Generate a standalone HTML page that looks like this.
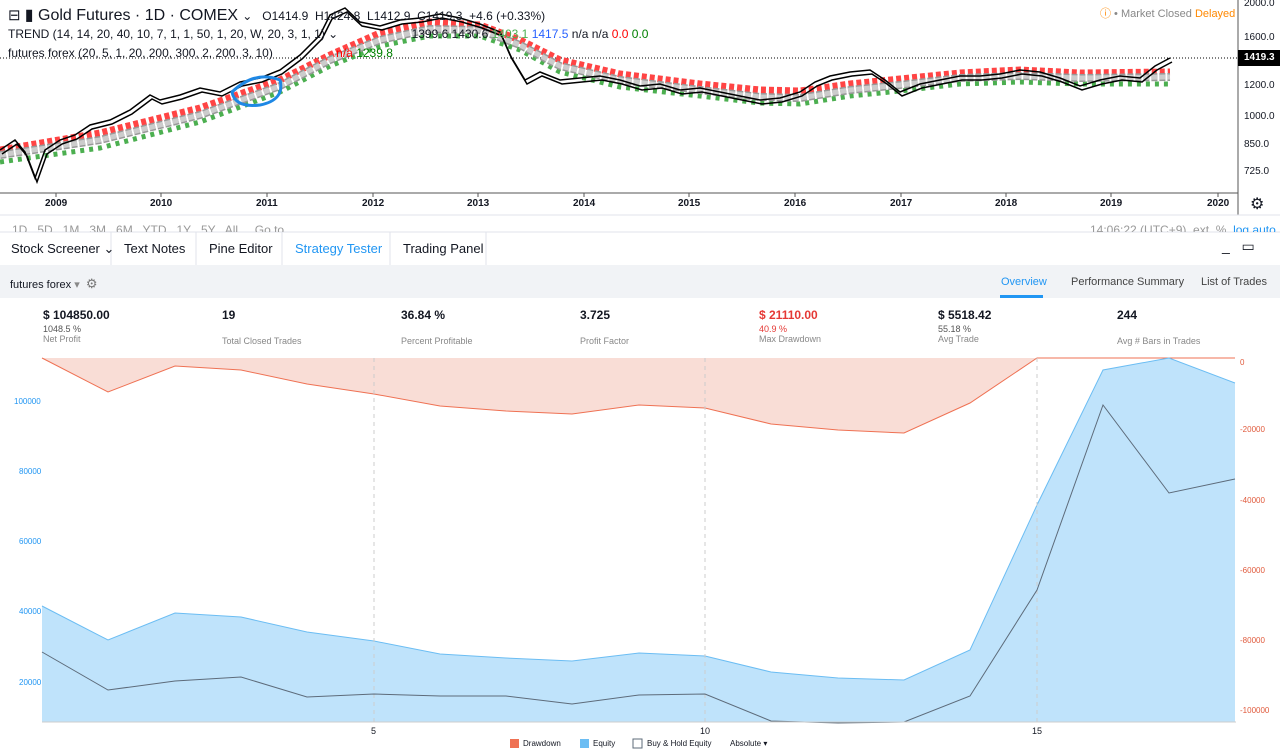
<!DOCTYPE html>
<html><head><meta charset="utf-8"><style>
body{margin:0;width:1280px;height:754px;overflow:hidden;background:#fff;font-family:"Liberation Sans",sans-serif;position:relative;color:#131722}
.a{position:absolute;white-space:nowrap}
</style></head><body>
<svg class="a" style="left:0;top:0" width="1280" height="754">
 <line x1="1238" y1="0" x2="1238" y2="215" stroke="#555" />
 <line x1="0" y1="193" x2="1238" y2="193" stroke="#555"/>
 <line x1="0" y1="215" x2="1280" y2="215" stroke="#e0e3eb"/>
 <line x1="0" y1="58" x2="1238" y2="58" stroke="#000" stroke-dasharray="1 2"/>
 <g stroke="#555"><line x1="56" y1="193" x2="56" y2="197"/><line x1="161" y1="193" x2="161" y2="197"/><line x1="267" y1="193" x2="267" y2="197"/><line x1="373" y1="193" x2="373" y2="197"/><line x1="478" y1="193" x2="478" y2="197"/><line x1="584" y1="193" x2="584" y2="197"/><line x1="689" y1="193" x2="689" y2="197"/><line x1="795" y1="193" x2="795" y2="197"/><line x1="901" y1="193" x2="901" y2="197"/><line x1="1006" y1="193" x2="1006" y2="197"/><line x1="1111" y1="193" x2="1111" y2="197"/><line x1="1218" y1="193" x2="1218" y2="197"/></g>
 <polyline fill="none" stroke="#f44" stroke-width="7" stroke-dasharray="5 3" points="0,150 100,133 200,108 280,80 330,55 380,33 430,22 480,25 520,40 560,60 620,74 700,84 760,90 800,91 850,84 900,79 960,73 1020,70 1080,73 1170,72"/>
 <polyline fill="none" stroke="#4caf50" stroke-width="5" stroke-dasharray="4 5" points="0,162 100,148 200,122 280,92 330,66 380,46 430,36 480,36 520,50 560,72 620,87 700,96 760,103 800,104 850,96 900,91 960,84 1020,82 1080,84 1170,84"/>
 <polyline fill="none" stroke="#999" stroke-width="8" stroke-dasharray="6 2" points="0,155 100,140 200,115 280,86 330,60 380,40 430,29 480,30 520,45 560,66 620,80 700,90 760,97 800,98 850,90 900,85 960,78 1020,76 1080,78 1170,77"/>
 <polyline fill="none" stroke="#ccc" stroke-width="5" stroke-dasharray="6 2" points="0,155 100,140 200,115 280,86 330,60 380,40 430,29 480,30 520,45 560,66 620,80 700,90 760,97 800,98 850,90 900,85 960,78 1020,76 1080,78 1170,77"/>
 <g fill="none" stroke="#000" stroke-width="1.5">
 <polyline points="0,150 15,140 25,152 35,178 45,150 60,140 75,135 90,125 110,120 130,110 150,95 160,100 180,95 200,88 220,92 240,82 260,78 280,70 300,55 320,35 330,15 345,8 360,22 380,26 400,20 420,18 440,14 460,18 480,24 500,32 510,55 525,80 540,72 560,80 580,78 600,76 620,80 640,86 660,84 680,90 700,88 720,92 740,96 760,100 780,98 800,92 815,82 830,76 850,72 870,70 885,80 900,92 920,84 940,80 960,76 980,76 1000,74 1020,70 1040,72 1060,78 1080,86 1100,80 1120,76 1140,78 1155,66 1170,58"/>
 <polyline transform="translate(2,4)" points="0,150 15,140 25,152 35,178 45,150 60,140 75,135 90,125 110,120 130,110 150,95 160,100 180,95 200,88 220,92 240,82 260,78 280,70 300,55 320,35 330,15 345,8 360,22 380,26 400,20 420,18 440,14 460,18 480,24 500,32 510,55 525,80 540,72 560,80 580,78 600,76 620,80 640,86 660,84 680,90 700,88 720,92 740,96 760,100 780,98 800,92 815,82 830,76 850,72 870,70 885,80 900,92 920,84 940,80 960,76 980,76 1000,74 1020,70 1040,72 1060,78 1080,86 1100,80 1120,76 1140,78 1155,66 1170,58"/>
 </g>
 <path d="M232,92 Q255,70 280,80 Q285,100 260,105 Q235,108 232,92Z" fill="none" stroke="#1e88e5" stroke-width="3"/>
 <rect x="1238" y="50" width="42" height="16" fill="#000"/>
 <line x1="0" y1="232" x2="1280" y2="232" stroke="#e0e3eb"/>
 <rect x="0" y="265" width="1280" height="33" fill="#f1f3f6"/>
 <g stroke="#e0e3eb"><line x1="111" y1="232" x2="111" y2="265"/><line x1="196" y1="232" x2="196" y2="265"/><line x1="282" y1="232" x2="282" y2="265"/><line x1="390" y1="232" x2="390" y2="265"/><line x1="486" y1="232" x2="486" y2="265"/></g>
 <rect x="1000" y="295" width="43" height="3" fill="#2196f3"/>
 <polygon fill="#f9ddd6" points="42,358 108,392 175,366 241,370 307,384 374,394 440,406 506,411 572,414 639,405 705,408 771,424 838,430 904,433 970,403 1037,358 1103,358 1169,358 1235,358"/>
 <polyline fill="none" stroke="#ef7153" stroke-width="1" points="42,358 108,392 175,366 241,370 307,384 374,394 440,406 506,411 572,414 639,405 705,408 771,424 838,430 904,433 970,403 1037,358 1103,358 1169,358 1235,358"/>
 <polygon fill="#bfe3fb" points="42,606 108,640 175,613 241,617 307,632 374,641 440,654 506,658 572,661 639,653 705,656 771,672 838,678 904,680 970,650 1037,505 1103,370 1169,358 1235,383 1235,722 42,722"/>
 <polyline fill="none" stroke="#6bbdf3" points="42,606 108,640 175,613 241,617 307,632 374,641 440,654 506,658 572,661 639,653 705,656 771,672 838,678 904,680 970,650 1037,505 1103,370 1169,358 1235,383"/>
 <g stroke="#ccc" stroke-dasharray="4 4"><line x1="374" y1="358" x2="374" y2="722"/><line x1="705" y1="358" x2="705" y2="722"/><line x1="1037" y1="358" x2="1037" y2="722"/></g>
 <polyline fill="none" stroke="#5d6b7a" points="42,652 108,690 175,681 241,677 307,697 374,694 440,696 506,696 572,704 639,695 705,694 771,721 838,723 904,722 970,696 1037,590 1103,405 1169,493 1235,479"/>
 <line x1="42" y1="722" x2="1236" y2="722" stroke="#ccc"/>
 <rect x="510" y="739" width="9" height="9" fill="#ef7153"/>
 <rect x="580" y="739" width="9" height="9" fill="#6bbdf3"/>
 <rect x="633" y="739" width="9" height="9" fill="#fff" stroke="#5d6b7a"/>
</svg>
<div class="a" style="left:8px;top:5px;font-size:15px">⊟ <b style="font-weight:normal;font-size:16px">▮ Gold Futures · 1D · COMEX</b> <span style="font-size:12px">⌄ &nbsp; O1414.9 &nbsp;H1424.8 &nbsp;L1412.9 &nbsp;C1419.3 &nbsp;+4.6 (+0.33%)</span></div>
<div class="a" style="left:8px;top:27px;font-size:12px">TREND (14, 14, 20, 40, 10, 7, 1, 1, 50, 1, 20, W, 20, 3, 1, 1) ⌄ <span style="margin-left:70px">1399.6 1430.6 <span style="color:#4caf50">1403.1</span> <span style="color:#2962ff">1417.5</span> n/a n/a <span style="color:red">0.0</span> <span style="color:green">0.0</span></span></div>
<div class="a" style="left:8px;top:46px;font-size:12px">futures forex (20, 5, 1, 20, 200, 300, 2, 200, 3, 10) <span style="margin-left:60px;color:red">n/a</span> <span style="color:green">1239.8</span></div>
<div class="a" style="left:1100px;top:5px;font-size:11px;color:#888"><span style="color:#f80">ⓘ</span> • Market Closed <span style="color:#f80">Delayed</span></div>
<div class="a" style="left:1244px;top:0;font-size:10px;line-height:12px">
<div style="position:absolute;top:-2px">2000.0</div><div style="position:absolute;top:32px">1600.0</div><div style="position:absolute;top:52px;color:#fff;font-weight:bold">1419.3</div><div style="position:absolute;top:80px">1200.0</div><div style="position:absolute;top:111px">1000.0</div><div style="position:absolute;top:139px">850.0</div><div style="position:absolute;top:166px">725.0</div></div>
<div class="a" style="top:198px;left:0;font-size:10px;font-weight:bold">
<span class="a" style="left:45px">2009</span><span class="a" style="left:150px">2010</span><span class="a" style="left:256px">2011</span><span class="a" style="left:362px">2012</span><span class="a" style="left:467px">2013</span><span class="a" style="left:573px">2014</span><span class="a" style="left:678px">2015</span><span class="a" style="left:784px">2016</span><span class="a" style="left:890px">2017</span><span class="a" style="left:995px">2018</span><span class="a" style="left:1100px">2019</span><span class="a" style="left:1207px">2020</span></div>
<div class="a" style="left:1250px;top:194px;font-size:16px">⚙</div>
<div class="a" style="left:12px;top:222px;font-size:12px;color:#999;height:10px;overflow:hidden;line-height:16px">1D &nbsp; 5D &nbsp; 1M &nbsp; 3M &nbsp; 6M &nbsp; YTD &nbsp; 1Y &nbsp; 5Y &nbsp; All &nbsp;&nbsp;&nbsp; Go to...</div>
<div class="a" style="left:1090px;top:222px;font-size:12px;color:#999;height:10px;overflow:hidden;line-height:16px">14:06:22 (UTC+9) &nbsp;ext &nbsp;% &nbsp;<span style="color:#2196f3">log auto</span></div>
<div class="a" style="top:241px;font-size:13px;left:0">
<span class="a" style="left:11px">Stock Screener ⌄</span><span class="a" style="left:124px">Text Notes</span><span class="a" style="left:209px">Pine Editor</span><span class="a" style="left:295px;color:#2196f3">Strategy Tester</span><span class="a" style="left:403px">Trading Panel</span></div>
<div class="a" style="left:1222px;top:238px;font-size:14px">_ &nbsp;&nbsp;▭</div>
<div class="a" style="left:10px;top:276px;font-size:11px">futures forex <span style="color:#888">▾</span> &nbsp;<span style="color:#777;font-size:13px">⚙</span></div>
<div class="a" style="left:1001px;top:276px;font-size:11px;color:#2196f3">Overview</div>
<div class="a" style="left:1071px;top:276px;font-size:11px;color:#444">Performance Summary</div>
<div class="a" style="left:1201px;top:276px;font-size:11px;color:#444">List of Trades</div>
<div class="a" style="top:308px;left:0;font-size:12px">
<div class="a" style="left:43px"><b>$ 104850.00</b><div style="font-size:9px;color:#555;margin-top:2px">1048.5 %</div><div style="font-size:9px;color:#888">Net Profit</div></div>
<div class="a" style="left:222px"><b>19</b><div style="font-size:9px;margin-top:14px;color:#888">Total Closed Trades</div></div>
<div class="a" style="left:401px"><b>36.84 %</b><div style="font-size:9px;margin-top:14px;color:#888">Percent Profitable</div></div>
<div class="a" style="left:580px"><b>3.725</b><div style="font-size:9px;margin-top:14px;color:#888">Profit Factor</div></div>
<div class="a" style="left:759px;color:#e53935"><b>$ 21110.00</b><div style="font-size:9px;margin-top:2px">40.9 %</div><div style="font-size:9px;color:#888">Max Drawdown</div></div>
<div class="a" style="left:938px"><b>$ 5518.42</b><div style="font-size:9px;color:#555;margin-top:2px">55.18 %</div><div style="font-size:9px;color:#888">Avg Trade</div></div>
<div class="a" style="left:1117px"><b>244</b><div style="font-size:9px;margin-top:14px;color:#888">Avg # Bars in Trades</div></div></div>
<div class="a" style="left:0;top:0;font-size:8px;color:#2196f3">
<span class="a" style="left:14px;top:397px">100000</span><span class="a" style="left:19px;top:467px">80000</span><span class="a" style="left:19px;top:537px">60000</span><span class="a" style="left:19px;top:607px">40000</span><span class="a" style="left:19px;top:678px">20000</span></div>
<div class="a" style="left:0;top:0;font-size:8px;color:#e05a3c">
<span class="a" style="left:1240px;top:358px">0</span><span class="a" style="left:1240px;top:425px">-20000</span><span class="a" style="left:1240px;top:496px">-40000</span><span class="a" style="left:1240px;top:566px">-60000</span><span class="a" style="left:1240px;top:636px">-80000</span><span class="a" style="left:1240px;top:706px">-100000</span></div>
<div class="a" style="left:0;top:726px;font-size:9px"><span class="a" style="left:371px">5</span><span class="a" style="left:700px">10</span><span class="a" style="left:1032px">15</span></div>
<div class="a" style="top:739px;font-size:8px;left:0"><span class="a" style="left:523px">Drawdown</span><span class="a" style="left:593px">Equity</span><span class="a" style="left:647px">Buy &amp; Hold Equity</span><span class="a" style="left:730px">Absolute ▾</span></div>
</body></html>
